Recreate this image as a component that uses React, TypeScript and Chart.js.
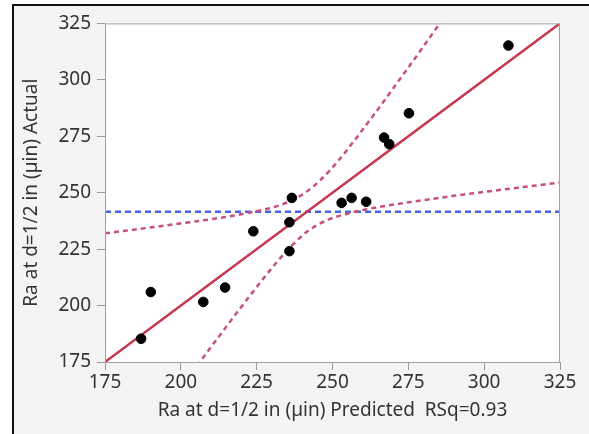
import React, { useEffect, useRef } from "react";
import { Chart, registerables } from "chart.js";

Chart.register(...registerables);

// Observed points: predicted (x) vs actual (y)
const predicted = [186.9, 190.1, 207.4, 214.6, 223.9, 235.8, 235.8, 236.6, 253.0, 256.3, 261.1, 267.0, 268.7, 275.2, 308.0];
const actual = [185.3, 206.0, 201.6, 208.0, 232.9, 236.9, 224.1, 247.7, 245.5, 247.7, 246.0, 274.4, 271.5, 285.2, 315.2];

// Fit line (actual = predicted)
const fitX = [175, 325];
const fitY = [175, 325];

// Mean of actual (horizontal reference)
const meanX = [175, 325];
const meanY = [241.6, 241.6];

// Confidence curves
const upperX = [175, 185, 195, 205, 215, 222, 228, 234, 240, 246, 252, 258, 264, 270, 276, 282, 288];
const upperY = [232.0, 233.7, 235.5, 237.3, 239.3, 241.0, 242.7, 245.1, 249.1, 255.6, 264.3, 274.5, 285.2, 296.2, 307.3, 318.6, 330.0];
const lowerX = [200, 206, 212, 218, 224, 230, 236, 242, 248, 254, 260, 268, 278, 290, 305, 325];
const lowerY = [163.6, 174.5, 185.3, 196.0, 206.5, 216.6, 225.8, 233.1, 237.7, 240.4, 242.3, 244.3, 246.3, 248.6, 251.2, 254.5];

const axisMin = 175;
const axisMax = 325;
const axisStep = 25;

const xTitle = "Ra at d=1/2 in (µin) Predicted  RSq=0.93";
const yTitle = "Ra at d=1/2 in (µin) Actual";

const pts = (xs: number[], ys: number[]) => xs.map((x, i) => ({ x, y: ys[i] }));

const plotFrame = {
  id: "plotFrame",
  beforeDraw(chart: any) {
    const { ctx, chartArea: a } = chart;
    ctx.save();
    ctx.fillStyle = "#ffffff";
    ctx.fillRect(a.left, a.top, a.right - a.left, a.bottom - a.top);
    ctx.restore();
  },
  afterDraw(chart: any) {
    const { ctx, chartArea: a } = chart;
    ctx.save();
    ctx.strokeStyle = "#a0a0a0";
    ctx.lineWidth = 1;
    ctx.strokeRect(a.left + 0.5, a.top + 0.5, a.right - a.left - 1, a.bottom - a.top);
    ctx.restore();
  },
};

export default function App() {
  const ref = useRef<HTMLCanvasElement>(null);
  useEffect(() => {
    if (!ref.current) return;
    Chart.defaults.font.family = "'Noto Sans', 'DejaVu Sans', sans-serif";
    Chart.defaults.color = "#333";
    const tickFont = { size: 19 };
    const chart = new Chart(ref.current, {
      type: "scatter",
      data: {
        datasets: [
          {
            label: "points",
            data: pts(predicted, actual),
            backgroundColor: "#000",
            borderColor: "#000",
            pointRadius: 4.8,
            order: 0,
          },
          {
            label: "fit",
            data: pts(fitX, fitY),
            showLine: true,
            borderColor: "rgb(200,55,80)",
            borderWidth: 2.5,
            pointRadius: 0,
            order: 1,
          },
          {
            label: "upper",
            data: pts(upperX, upperY),
            showLine: true,
            borderColor: "rgb(200,80,125)",
            borderWidth: 2.5,
            borderDash: [5, 4],
            pointRadius: 0,
            cubicInterpolationMode: "monotone",
            order: 2,
          },
          {
            label: "lower",
            data: pts(lowerX, lowerY),
            showLine: true,
            borderColor: "rgb(200,80,125)",
            borderWidth: 2.5,
            borderDash: [5, 4],
            pointRadius: 0,
            cubicInterpolationMode: "monotone",
            order: 2,
          },
          {
            label: "mean",
            data: pts(meanX, meanY),
            showLine: true,
            borderColor: "rgb(70,100,230)",
            borderWidth: 2.5,
            borderDash: [6, 4],
            pointRadius: 0,
            order: 3,
          },
        ],
      },
      options: {
        animation: false,
        responsive: false,
        layout: { padding: { left: 0, right: 29, top: 16, bottom: 0 } },
        plugins: { legend: { display: false }, tooltip: { enabled: false } },
        scales: {
          x: {
            type: "linear",
            min: axisMin,
            max: axisMax,
            ticks: { stepSize: axisStep, font: tickFont, padding: 1, maxRotation: 0 },
            grid: { drawOnChartArea: false, drawTicks: true, tickLength: 8, color: "#999" },
            border: { display: false },
            title: { display: true, text: xTitle, font: tickFont, padding: { top: 0, bottom: 12 } },
            afterFit: (s: any) => { s.height = 72; },
          },
          y: {
            type: "linear",
            min: axisMin,
            max: axisMax,
            ticks: { stepSize: axisStep, font: tickFont, padding: 6 },
            grid: { drawOnChartArea: false, drawTicks: true, tickLength: 8, color: "#999" },
            border: { display: false },
            title: { display: true, text: yTitle, font: tickFont, padding: { top: 6, bottom: 0 } },
            afterFit: (s: any) => { s.width = 91; },
          },
        },
      },
      plugins: [plotFrame],
    } as any);
    return () => chart.destroy();
  }, []);

  return (
    <div style={{ position: "fixed", left: 0, top: 0, width: 589, height: 434, background: "#fff", overflow: "hidden" }}>
      <div
        style={{
          position: "absolute",
          left: 12,
          top: 4,
          width: 575,
          height: 428,
          borderLeft: "2px solid #111",
          borderTop: "2px solid #111",
          background: "#f4f4f4",
        }}
      >
        <canvas ref={ref} width={575} height={428} style={{ display: "block", width: 575, height: 428 }} />
      </div>
    </div>
  );
}
